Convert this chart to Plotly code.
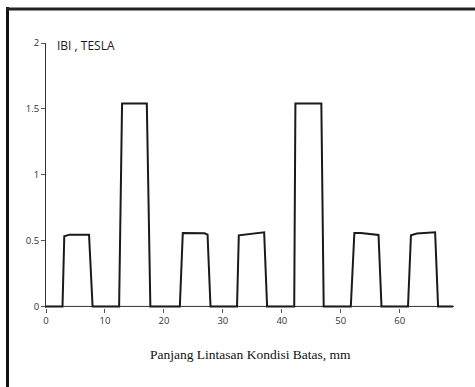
import plotly.graph_objects as go

# Magnitude of flux density |B| along the boundary-condition path
path_mm = [0, 2.8, 3.1, 4.0, 7.3, 7.9, 12.4, 12.9, 17.1, 17.7, 22.7, 23.2, 26.9, 27.4,
           27.9, 32.4, 32.7, 34.6, 37.0, 37.5, 42.1, 42.3, 46.7, 47.1, 51.7, 52.3, 53.4,
           56.4, 56.9, 61.4, 61.9, 62.9, 66.0, 66.5, 69.0]
b_tesla = [0, 0, 0.533, 0.545, 0.545, 0, 0, 1.54, 1.54, 0, 0, 0.558, 0.555, 0.545,
           0, 0, 0.54, 0.55, 0.563, 0, 0, 1.54, 1.54, 0, 0, 0.558, 0.558,
           0.543, 0, 0, 0.54, 0.553, 0.563, 0, 0]

x_ticks = [0, 10, 20, 30, 40, 50, 60]
y_ticks = [0, 0.5, 1, 1.5, 2]
y_tick_text = ["0", "0.5", "1", "1.5", "2"]

W, H = 475, 387
L, R, T, B = 46, 21, 43, 79
pw, ph = W - L - R, H - T - B


def px(xp):
    return (xp - L) / pw


def py(yp):
    return 1 - (yp - T) / ph


fig = go.Figure()
fig.add_trace(go.Scatter(
    x=path_mm, y=b_tesla, mode="lines",
    line=dict(color="#1a1a1a", width=2),
    hoverinfo="skip", showlegend=False,
))

tick_font = dict(family="Open Sans, Arial, sans-serif", size=9.5, color="#333333")

fig.update_layout(
    width=W, height=H,
    margin=dict(l=L, r=R, t=T, b=B),
    paper_bgcolor="white", plot_bgcolor="white",
    xaxis=dict(
        range=[0, 69.2], tickvals=x_ticks, showgrid=False,
        showline=False, zeroline=False,
        ticks="outside", ticklen=4, tickcolor="#555555", tickwidth=1,
        tickfont=tick_font,
    ),
    yaxis=dict(
        range=[-0.012, 2.0], tickvals=y_ticks, ticktext=y_tick_text,
        showgrid=False, showline=True, linecolor="#333333", linewidth=1,
        zeroline=False,
        ticks="outside", ticklen=4, tickcolor="#555555", tickwidth=1,
        tickfont=tick_font,
    ),
    shapes=[
        # horizontal axis line at B = 0
        dict(type="line", xref="x", yref="y", x0=0, x1=69.2, y0=0, y1=0,
             line=dict(color="#333333", width=1), layer="below"),
        # outer frame: left and top edges
        dict(type="line", xref="paper", yref="paper", x0=px(7.5), x1=px(7.5),
             y0=py(7), y1=py(H + 5), line=dict(color="#111111", width=3)),
        dict(type="line", xref="paper", yref="paper", x0=px(6), x1=px(W + 5),
             y0=py(9), y1=py(9), line=dict(color="#222222", width=3)),
    ],
    annotations=[
        dict(text="IBI , TESLA", xref="paper", yref="paper",
             x=px(55), y=py(45), xanchor="left", yanchor="middle",
             showarrow=False,
             font=dict(family="Open Sans, Arial, sans-serif", size=12, color="#1a1a1a")),
        dict(text="Panjang Lintasan Kondisi Batas, mm", xref="paper", yref="paper",
             x=px(250), y=py(354), xanchor="center", yanchor="middle",
             showarrow=False,
             font=dict(family="Liberation Serif, Times New Roman, serif", size=13.5,
                       color="#111111")),
    ],
)

fig.write_html("out.html")
